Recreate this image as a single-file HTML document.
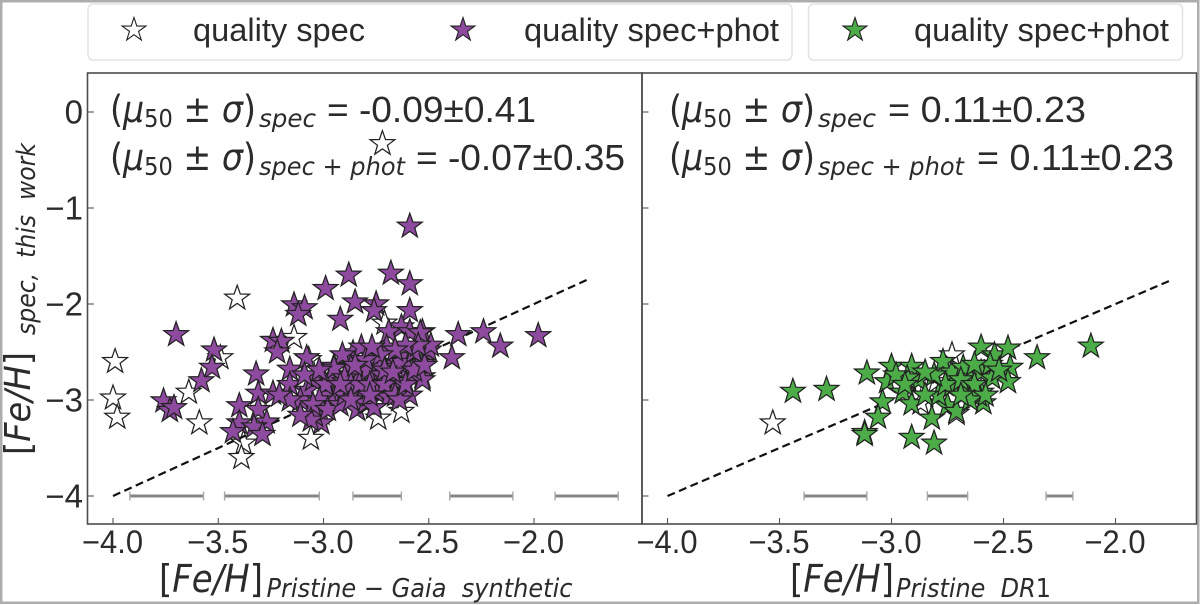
<!DOCTYPE html>
<html lang="en">
<head>
<meta charset="utf-8">
<title>Metallicity comparison</title>
<style>
html,body{margin:0;padding:0;background:#fff;width:1200px;height:605px;overflow:hidden}
svg{display:block}
text{fill:#2b2b2b}
.sans{font-family:"Liberation Sans",sans-serif}
.math{font-family:"DejaVu Sans",sans-serif}
.it{font-style:italic}
</style>
</head>
<body>
<svg id="chart" xmlns="http://www.w3.org/2000/svg" width="1200" height="605" viewBox="0 0 1200 605">
  <rect x="0" y="0" width="1200" height="605" fill="#fff"/>
  <rect x="1.25" y="1.25" width="1197" height="601.5" fill="none" stroke="#adadad" stroke-width="2.5"/>

  <g>
    <rect x="88" y="4" width="704" height="56" rx="5" fill="#fff" stroke="#e4e4e4" stroke-width="1.5"/>
    <polygon points="134,17.5 136.8,26.1 145.9,26.1 138.5,31.4 141.3,40 134,34.7 126.7,40 129.5,31.4 122.1,26.1 131.2,26.1" fill="#fff" stroke="#222" stroke-width="1.1"/>
    <text class="sans" x="193" y="41" font-size="32" textLength="172" lengthAdjust="spacingAndGlyphs">quality spec</text>
    <polygon points="463,17.5 465.8,26.1 474.9,26.1 467.5,31.4 470.3,40 463,34.7 455.7,40 458.5,31.4 451.1,26.1 460.2,26.1" fill="#8e4a9e" stroke="#222" stroke-width="1.1"/>
    <text class="sans" x="524" y="41" font-size="32" textLength="255" lengthAdjust="spacingAndGlyphs">quality spec+phot</text>
  </g>
  <g>
    <rect x="808.5" y="4" width="374" height="56" rx="5" fill="#fff" stroke="#e4e4e4" stroke-width="1.5"/>
    <polygon points="855,17.5 857.8,26.1 866.9,26.1 859.5,31.4 862.3,40 855,34.7 847.7,40 850.5,31.4 843.1,26.1 852.2,26.1" fill="#4cad48" stroke="#222" stroke-width="1.1"/>
    <text class="sans" x="914" y="41" font-size="32" textLength="255" lengthAdjust="spacingAndGlyphs">quality spec+phot</text>
  </g>

  <g id="marks"></g>

  <rect x="87.5" y="73" width="554.5" height="451" fill="none" stroke="#4d4d4d" stroke-width="1.6"/>
  <rect x="642" y="73" width="554.5" height="451" fill="none" stroke="#4d4d4d" stroke-width="1.6"/>
  <g id="axes"></g>

  <g>
    <text class="math" x="110" y="122" font-size="37" textLength="146" lengthAdjust="spacingAndGlyphs">(<tspan class="it">μ</tspan><tspan font-size="25" dy="5">50</tspan><tspan dy="-5">&#160;±&#160;</tspan><tspan class="it">σ</tspan>)</text>
    <text class="math it" x="259" y="127" font-size="25" textLength="57" lengthAdjust="spacingAndGlyphs">spec</text>
    <text class="sans" x="327" y="122" font-size="36" textLength="209" lengthAdjust="spacingAndGlyphs">= -0.09±0.41</text>
    <text class="math" x="110" y="170" font-size="37" textLength="146" lengthAdjust="spacingAndGlyphs">(<tspan class="it">μ</tspan><tspan font-size="25" dy="5">50</tspan><tspan dy="-5">&#160;±&#160;</tspan><tspan class="it">σ</tspan>)</text>
    <text class="math it" x="259" y="175" font-size="25" textLength="146" lengthAdjust="spacingAndGlyphs">spec + phot</text>
    <text class="sans" x="416" y="170" font-size="36" textLength="209" lengthAdjust="spacingAndGlyphs">= -0.07±0.35</text>
  </g>
  <g>
    <text class="math" x="669" y="122" font-size="37" textLength="146" lengthAdjust="spacingAndGlyphs">(<tspan class="it">μ</tspan><tspan font-size="25" dy="5">50</tspan><tspan dy="-5">&#160;±&#160;</tspan><tspan class="it">σ</tspan>)</text>
    <text class="math it" x="818" y="127" font-size="25" textLength="58" lengthAdjust="spacingAndGlyphs">spec</text>
    <text class="sans" x="888" y="122" font-size="36" textLength="198" lengthAdjust="spacingAndGlyphs">= 0.11±0.23</text>
    <text class="math" x="669" y="170" font-size="37" textLength="146" lengthAdjust="spacingAndGlyphs">(<tspan class="it">μ</tspan><tspan font-size="25" dy="5">50</tspan><tspan dy="-5">&#160;±&#160;</tspan><tspan class="it">σ</tspan>)</text>
    <text class="math it" x="818" y="175" font-size="25" textLength="146" lengthAdjust="spacingAndGlyphs">spec + phot</text>
    <text class="sans" x="977" y="170" font-size="36" textLength="197" lengthAdjust="spacingAndGlyphs">= 0.11±0.23</text>
  </g>

  <g>
    <text class="math" x="159" y="592" font-size="38" textLength="104" lengthAdjust="spacingAndGlyphs">[<tspan class="it">Fe/H</tspan>]</text>
    <text class="math it" x="266.5" y="597" font-size="26" textLength="306" lengthAdjust="spacingAndGlyphs">Pristine − Gaia&#160;&#160;synthetic</text>
  </g>
  <g>
    <text class="math" x="790" y="592" font-size="38" textLength="104" lengthAdjust="spacingAndGlyphs">[<tspan class="it">Fe/H</tspan>]</text>
    <text class="math" x="896" y="597" font-size="26" textLength="155" lengthAdjust="spacingAndGlyphs"><tspan class="it">Pristine&#160;&#160;DR</tspan>1</text>
  </g>
  <g>
    <text class="math" transform="translate(30,455) rotate(-90)" x="0" y="0" font-size="36" textLength="103" lengthAdjust="spacingAndGlyphs">[<tspan class="it">Fe/H</tspan>]</text>
    <text class="math it" transform="translate(35,335) rotate(-90)" x="0" y="0" font-size="26" textLength="192" lengthAdjust="spacingAndGlyphs">spec,&#160;&#160;this&#160;&#160;work</text>
  </g>
</svg>

<script>
const xTickValues = [-4.0, -3.5, -3.0, -2.5, -2.0];
const xTickLabels = ["−4.0", "−3.5", "−3.0", "−2.5", "−2.0"];
const yTickValues = [0, -1, -2, -3, -4];
const yTickLabels = ["0", "−1", "−2", "−3", "−4"];
const identityLine = [-4, -1.75];

const leftSpecX = [-2.72,-3.41,-3.99,-4.00,-3.98,-3.64,-3.59,-3.49,-3.14,-3.06,-3.38,-3.39,-3.07,-2.74,-2.63,-2.71];
const leftSpecY = [-0.33,-1.94,-2.60,-2.98,-3.18,-2.92,-3.24,-2.56,-2.35,-3.40,-3.45,-3.60,-2.58,-3.19,-3.12,-2.20];

const leftPhotX = [-3.70,-3.52,-3.53,-3.58,-3.76,-3.73,-3.71,-2.99,-2.88,-2.85,-2.92,-3.14,-3.09,-3.12,-3.24,-3.20,-3.22,-3.32,-3.16,-3.08,-3.31,-3.24,-3.16,-3.40,-3.31,-3.40,-3.43,-3.27,-3.33,-3.29,-3.08,-3.11,-3.05,-2.95,-2.96,-2.86,-2.82,-2.91,-2.89,-2.84,-2.95,-3.01,-3.01,-3.04,-2.84,-2.79,-2.59,-2.68,-2.59,-2.75,-2.76,-2.59,-2.63,-2.69,-2.53,-2.59,-2.36,-2.24,-2.16,-2.39,-1.98,-2.70,-2.57,-2.51,-2.76,-2.63,-2.53,-2.59,-2.65,-2.79,-2.74,-2.75,-2.59,-2.53,-2.68,-2.90,-2.69,-2.87,-2.83,-2.73,-2.60,-2.95,-2.90,-2.94,-2.80,-2.79,-2.72,-2.65,-2.64,-2.54,-2.50,-2.53,-2.57,-2.97,-2.99,-3.02,-3.05,-3.06,-2.98,-2.92,-2.90,-2.87,-2.83,-2.78,-2.71,-2.66,-2.64,-2.61,-2.57,-2.52,-2.49,-2.55,-2.61,-2.66,-2.73,-2.80,-2.85,-2.77,-2.71,-2.67,-2.76,-3.11,-3.16,-3.21,-3.09,-3.02,-2.78,-2.87,-2.92];
const leftPhotY = [-2.32,-2.48,-2.66,-2.80,-3.01,-3.11,-3.08,-1.84,-1.70,-1.98,-2.16,-2.01,-2.04,-2.11,-2.38,-2.39,-2.50,-2.73,-2.68,-2.56,-2.93,-2.93,-2.84,-3.06,-3.10,-3.24,-3.33,-3.23,-3.28,-3.36,-2.90,-3.00,-2.79,-2.65,-2.81,-2.51,-2.45,-2.53,-2.74,-2.92,-2.98,-3.14,-3.24,-3.16,-3.10,-3.03,-1.19,-1.68,-1.79,-2.00,-2.07,-2.07,-2.24,-2.29,-2.29,-2.29,-2.32,-2.29,-2.44,-2.56,-2.33,-2.45,-2.50,-2.50,-2.56,-2.55,-2.76,-2.74,-2.81,-2.71,-2.76,-2.92,-2.95,-2.62,-2.62,-2.81,-2.97,-2.66,-2.74,-2.66,-2.66,-2.67,-2.77,-2.98,-3.03,-2.69,-2.74,-2.81,-2.61,-2.30,-2.48,-2.79,-2.50,-2.95,-2.84,-3.00,-3.05,-3.21,-3.10,-3.05,-2.95,-2.84,-2.84,-2.84,-2.84,-2.95,-3.00,-2.84,-2.69,-2.64,-2.43,-2.43,-2.43,-2.48,-2.53,-2.58,-2.64,-2.45,-2.69,-2.71,-3.08,-3.16,-3.00,-2.95,-2.74,-2.69,-2.95,-3.00,-2.84];

const rightSpecX = [-3.53,-2.73,-2.80,-2.87,-2.71];
const rightSpecY = [-3.24,-2.53,-2.81,-3.03,-3.14];

const rightPhotX = [-2.11,-2.35,-3.44,-3.29,-3.11,-3.00,-2.91,-3.02,-2.88,-2.95,-3.04,-2.91,-3.06,-3.12,-3.12,-2.91,-2.81,-2.82,-2.75,-2.71,-2.79,-2.73,-2.77,-2.73,-2.68,-2.65,-2.66,-2.60,-2.54,-2.48,-2.60,-2.47,-2.48,-2.55,-2.60,-2.59,-2.61,-2.93,-2.98,-2.94,-2.85,-2.76,-2.69,-2.63,-2.56,-2.52,-2.63,-2.81,-2.65,-2.58,-2.69,-2.85];
const rightPhotY = [-2.44,-2.56,-2.91,-2.89,-2.72,-2.65,-2.65,-2.81,-2.79,-2.92,-3.02,-3.04,-3.18,-3.34,-3.36,-3.39,-3.45,-3.19,-3.06,-3.12,-2.95,-2.85,-2.60,-2.71,-2.66,-2.77,-2.89,-2.45,-2.53,-2.46,-2.71,-2.66,-2.81,-2.77,-2.92,-3.03,-2.95,-2.77,-2.74,-2.84,-2.95,-2.84,-2.79,-2.84,-2.63,-2.69,-2.63,-2.74,-3.00,-2.95,-2.95,-2.71];

const leftErrorLow = [-3.92,-3.47,-2.86,-2.40,-1.90];
const leftErrorHigh = [-3.57,-3.02,-2.63,-2.10,-1.60];
const rightErrorLow = [-3.39,-2.84,-2.31];
const rightErrorHigh = [-3.11,-2.66,-2.19];
const errorLevel = -4;

const NS = "http://www.w3.org/2000/svg";
const marks = document.getElementById("marks");
const axes = document.getElementById("axes");
function leftX(v){ return 113 + (v + 4) * 210.5; }
function rightX(v){ return 667.5 + (v + 4) * 224; }
function yScale(v){ return 112 - v * 96; }
function make(tag, parent){
  const el = document.createElementNS(NS, tag);
  parent.appendChild(el);
  return el;
}
function starPoints(cx, cy){
  const pts = [];
  for (let i = 0; i < 10; i++){
    const r = i % 2 ? 5.2 : 13;
    const a = -Math.PI / 2 + i * Math.PI / 5;
    pts.push((cx + r * Math.cos(a)).toFixed(1) + "," + (cy + r * Math.sin(a)).toFixed(1));
  }
  return pts.join(" ");
}
function drawStars(xs, ys, xFn, fill, name){
  xs.forEach(function(v, i){
    const el = make("polygon", marks);
    
    
    el.setAttribute("points", starPoints(xFn(v), yScale(ys[i])));
    el.setAttribute("fill", fill);
    el.setAttribute("stroke", "#222");
    el.setAttribute("stroke-width", "1.25");
  });
}
function drawIdentity(xFn, name){
  const el = make("line", marks);
  
  
  el.setAttribute("x1", xFn(identityLine[0]));
  el.setAttribute("y1", yScale(identityLine[0]));
  el.setAttribute("x2", xFn(identityLine[1]));
  el.setAttribute("y2", yScale(identityLine[1]));
  el.setAttribute("stroke", "#111");
  el.setAttribute("stroke-width", "2.2");
  el.setAttribute("stroke-dasharray", "8 4.5");
}
function drawErrors(lows, highs, xFn, name){
  lows.forEach(function(lo, i){
    const y = yScale(errorLevel);
    const g = make("g", marks);
    
    
    const bar = make("line", g);
    bar.setAttribute("x1", xFn(lo));
    bar.setAttribute("x2", xFn(highs[i]));
    bar.setAttribute("y1", y);
    bar.setAttribute("y2", y);
    bar.setAttribute("stroke", "#858585");
    bar.setAttribute("stroke-width", "3");
    [lo, highs[i]].forEach(function(v){
      const cap = make("line", g);
      cap.setAttribute("x1", xFn(v));
      cap.setAttribute("x2", xFn(v));
      cap.setAttribute("y1", y - 4.5);
      cap.setAttribute("y2", y + 4.5);
      cap.setAttribute("stroke", "#a8a8a8");
      cap.setAttribute("stroke-width", "1.4");
    });
  });
}
function drawXTicks(xFn, name){
  xTickValues.forEach(function(v, i){
    const px = xFn(v);
    const t = make("line", axes);
    
    
    t.setAttribute("x1", px);
    t.setAttribute("x2", px);
    t.setAttribute("y1", 524);
    t.setAttribute("y2", 518);
    t.setAttribute("stroke", "#555");
    t.setAttribute("stroke-width", "1.1");
    const l = make("text", axes);
    
    
    l.setAttribute("class", "sans");
    l.setAttribute("x", px - 0.5);
    l.setAttribute("y", 553);
    l.setAttribute("font-size", "32");
    l.setAttribute("text-anchor", "middle");
    l.setAttribute("textLength", "61");
    l.setAttribute("lengthAdjust", "spacingAndGlyphs");
    l.textContent = xTickLabels[i];
  });
}
function drawYTicks(x0, withLabels, name){
  yTickValues.forEach(function(v, i){
    const py = yScale(v);
    const t = make("line", axes);
    
    
    t.setAttribute("x1", x0);
    t.setAttribute("x2", x0 + 6);
    t.setAttribute("y1", py);
    t.setAttribute("y2", py);
    t.setAttribute("stroke", "#555");
    t.setAttribute("stroke-width", "1.1");
    if (withLabels){
      const l = make("text", axes);
      
      
      l.setAttribute("class", "sans");
      l.setAttribute("x", 83);
      l.setAttribute("y", py + 11.5);
      l.setAttribute("font-size", "33");
      l.setAttribute("text-anchor", "end");
      l.textContent = yTickLabels[i];
    }
  });
}
drawErrors(leftErrorLow, leftErrorHigh, leftX, "left-error-scale");
drawErrors(rightErrorLow, rightErrorHigh, rightX, "right-error-scale");
drawStars(leftSpecX, leftSpecY, leftX, "#fff", "left-star-quality-spec");
drawIdentity(leftX, "left-identity-line");
drawStars(leftPhotX, leftPhotY, leftX, "#8e4a9e", "left-star-quality-spec-phot");
drawStars(rightSpecX, rightSpecY, rightX, "#fff", "right-star-quality-spec");
drawIdentity(rightX, "right-identity-line");
drawStars(rightPhotX, rightPhotY, rightX, "#4cad48", "right-star-quality-spec-phot");
drawXTicks(leftX, "left-x-axis");
drawXTicks(rightX, "right-x-axis");
drawYTicks(88, true, "left-y-axis");
drawYTicks(642.5, false, "right-y-axis");
</script>
</body>
</html>
